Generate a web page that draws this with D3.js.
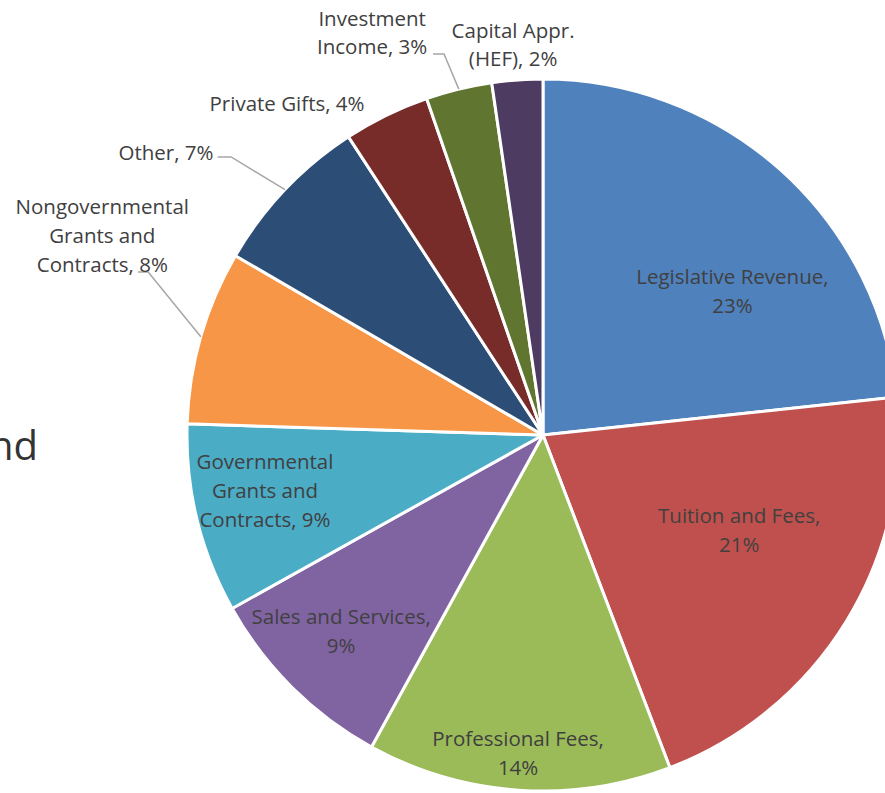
<!DOCTYPE html>
<html>
<head>
<meta charset="utf-8">
<script src="https://cdn.jsdelivr.net/npm/d3@7"></script>
<style>
  html, body { margin: 0; padding: 0; background: #ffffff; }
  svg { display: block; }
</style>
</head>
<body>
<svg id="chart" width="885" height="793"></svg>
<script>
// Revenue sources, clockwise from 12 o'clock
const categories = [
  "Legislative Revenue",
  "Tuition and Fees",
  "Professional Fees",
  "Sales and Services",
  "Governmental Grants and Contracts",
  "Nongovernmental Grants and Contracts",
  "Other",
  "Private Gifts",
  "Investment Income",
  "Capital Appr. (HEF)"
];
const shares = [23.3, 20.9, 13.8, 8.9, 8.6, 7.9, 7.4, 3.9, 3.0, 2.3];
const colors = [
  "#4F81BD", "#C0504D", "#9BBB59", "#8064A2", "#4BACC6",
  "#F79646", "#2C4D75", "#772C2A", "#5F7530", "#4D3B62"
];
// How each label's text is broken into lines
const labelLines = [
  ["Legislative Revenue,", "{p}"],
  ["Tuition and Fees,", "{p}"],
  ["Professional Fees,", "{p}"],
  ["Sales and Services,", "{p}"],
  ["Governmental", "Grants and", "Contracts, {p}"],
  ["Nongovernmental", "Grants and", "Contracts, {p}"],
  ["Other, {p}"],
  ["Private Gifts, {p}"],
  ["Investment", "Income, {p}"],
  ["Capital Appr.", "(HEF), {p}"]
];

// Layout: label centres as multiples of the radius, plus leader lines
const cx = 543, cy = 435, R = 356;
const labelPos = [
  [0.532, -0.404], [0.551, 0.267], [-0.070, 0.895], [-0.567, 0.551], [-0.781, 0.157],
  [-1.238, -0.560], [-1.059, -0.793], [-0.719, -0.930], [-0.480, -1.130], [-0.084, -1.096]
];
// leader: [end x, end y, elbow x] relative to centre (in radii); null = no leader
const leaders = [null, null, null, null, null,
  [-1.138, -0.458, -1.109], [-0.914, -0.781, -0.876], null, [-0.309, -1.070, -0.278], null];

const svg = d3.select("#chart");

// slide title fragment at the left edge
svg.append("text")
  .attr("x", 38).attr("y", 460)
  .attr("text-anchor", "end")
  .attr("font-family", "'Open Sans', 'Liberation Sans', sans-serif")
  .attr("font-size", 40)
  .attr("fill", "#333333")
  .text("nd");

const data = categories.map((c, i) => ({ name: c, value: shares[i], color: colors[i], i }));

const pie = d3.pie().value(d => d.value).sort(null);
const arc = d3.arc().innerRadius(0).outerRadius(R);
const arcs = pie(data);

const g = svg.append("g").attr("transform", `translate(${cx},${cy})`);

g.selectAll("path.slice")
  .data(arcs)
  .join("path")
  .attr("class", "slice")
  .attr("d", arc)
  .attr("fill", d => d.data.color)
  .attr("stroke", "#ffffff")
  .attr("stroke-width", 3)
  .attr("stroke-linejoin", "round");

// leader lines from slice midpoints on the rim
arcs.forEach((a, i) => {
  const L = leaders[i];
  if (!L) return;
  const mid = (a.startAngle + a.endAngle) / 2;
  const px = Math.sin(mid) * R, py = -Math.cos(mid) * R;
  const ex = L[0] * R, ey = L[1] * R, bx = L[2] * R;
  g.append("polyline")
    .attr("points", `${px},${py} ${bx},${ey} ${ex},${ey}`)
    .attr("fill", "none")
    .attr("stroke", "#A6A6A6")
    .attr("stroke-width", 1.5);
});

const fmt = v => Math.round(v) + "%";
const lineH = 28.8;

arcs.forEach((a, i) => {
  const lines = labelLines[i].map(s => s.replace("{p}", fmt(a.data.value)));
  const x = labelPos[i][0] * R, y = labelPos[i][1] * R;
  const t = g.append("text")
    .attr("text-anchor", "middle")
    .attr("font-family", "'Open Sans', 'Liberation Sans', sans-serif")
    .attr("font-size", 20.5)
    .attr("fill", "#404040");
  const y0 = y - (lines.length - 1) * lineH / 2;
  lines.forEach((s, k) => {
    t.append("tspan")
      .attr("x", x)
      .attr("y", y0 + k * lineH)
      .attr("dy", "0.35em")
      .text(s);
  });
});
</script>
</body>
</html>
